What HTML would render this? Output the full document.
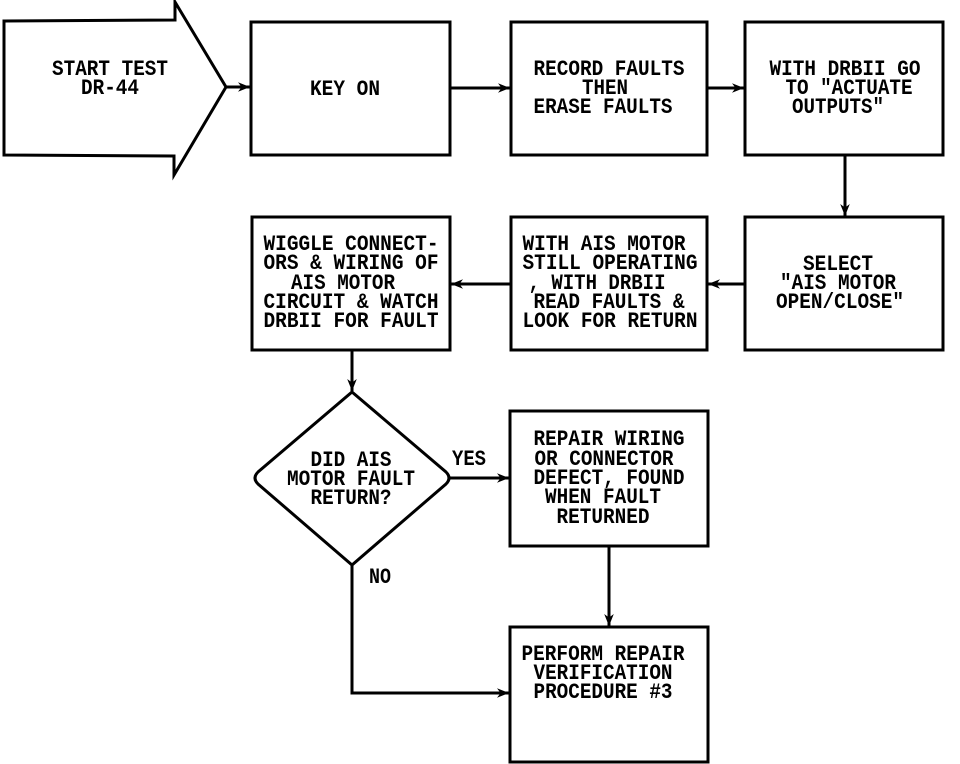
<!DOCTYPE html>
<html><head><meta charset="utf-8"><style>html,body{margin:0;padding:0;background:#fff}svg{display:block}text{font-family:"Liberation Mono",monospace;font-weight:bold;font-size:22px;fill:#000}</style></head><body>
<svg width="960" height="764" viewBox="0 0 960 764" xmlns="http://www.w3.org/2000/svg">
<defs><marker id="a" viewBox="0 0 10 10" refX="10" refY="5" markerWidth="12" markerHeight="12" markerUnits="userSpaceOnUse" orient="auto"><path d="M0,1 L10,5 L0,9 L3,5 z" fill="#000"/></marker></defs>
<g fill="none" stroke="#000" stroke-width="3">
<path d="M4,21 L175,20 L175,2 L226,87 L174,175 L174,156 L4,155 Z"/>
<rect x="251" y="22" width="199" height="133"/>
<rect x="511" y="22" width="196" height="133"/>
<rect x="745" y="22" width="198" height="133"/>
<rect x="252" y="217" width="198" height="133"/>
<rect x="511" y="217" width="196" height="133"/>
<rect x="745" y="217" width="198" height="133"/>
<path d="M352,392 L446,472 Q452,478 446,484 L352,565 L258,484 Q252,478 258,472 Z"/>
<rect x="510" y="411" width="198" height="135"/>
<rect x="510" y="627" width="198" height="135"/>
<g marker-end="url(#a)">
<line x1="226" y1="87" x2="250" y2="87"/>
<line x1="450" y1="88" x2="510" y2="88"/>
<line x1="707" y1="88" x2="744" y2="88"/>
<line x1="845" y1="155" x2="845" y2="216"/>
<line x1="745" y1="284" x2="708" y2="284"/>
<line x1="511" y1="284" x2="451" y2="284"/>
<line x1="352" y1="350" x2="352" y2="391"/>
<line x1="450" y1="478" x2="509" y2="478"/>
<line x1="609" y1="546" x2="609" y2="626"/>
<polyline points="352,565 352,693 509,693"/>
</g></g>
<g text-anchor="middle" lengthAdjust="spacingAndGlyphs">
<text x="110" y="75" textLength="116" lengthAdjust="spacingAndGlyphs">START TEST</text>
<text x="110" y="94" textLength="58" lengthAdjust="spacingAndGlyphs">DR-44</text>
<text x="345" y="95" textLength="70" lengthAdjust="spacingAndGlyphs">KEY ON</text>
<text x="609" y="75" textLength="151" lengthAdjust="spacingAndGlyphs">RECORD FAULTS</text>
<text x="605" y="94" textLength="46" lengthAdjust="spacingAndGlyphs">THEN</text>
<text x="603" y="113" textLength="139" lengthAdjust="spacingAndGlyphs">ERASE FAULTS</text>
<text x="845" y="75" textLength="151" lengthAdjust="spacingAndGlyphs">WITH DRBII GO</text>
<text x="849" y="94" textLength="127" lengthAdjust="spacingAndGlyphs">TO "ACTUATE</text>
<text x="838" y="113" textLength="92" lengthAdjust="spacingAndGlyphs">OUTPUTS"</text>
<text x="351" y="250" textLength="175" lengthAdjust="spacingAndGlyphs">WIGGLE CONNECT-</text>
<text x="351" y="269" textLength="175" lengthAdjust="spacingAndGlyphs">ORS &amp; WIRING OF</text>
<text x="343" y="289" textLength="104" lengthAdjust="spacingAndGlyphs">AIS MOTOR</text>
<text x="351" y="308" textLength="175" lengthAdjust="spacingAndGlyphs">CIRCUIT &amp; WATCH</text>
<text x="351" y="327" textLength="175" lengthAdjust="spacingAndGlyphs">DRBII FOR FAULT</text>
<text x="604" y="250" textLength="163" lengthAdjust="spacingAndGlyphs">WITH AIS MOTOR</text>
<text x="610" y="269" textLength="175" lengthAdjust="spacingAndGlyphs">STILL OPERATING</text>
<text x="597" y="289" textLength="137" lengthAdjust="spacingAndGlyphs">, WITH DRBII</text>
<text x="609" y="308" textLength="151" lengthAdjust="spacingAndGlyphs">READ FAULTS &amp;</text>
<text x="610" y="327" textLength="175" lengthAdjust="spacingAndGlyphs">LOOK FOR RETURN</text>
<text x="838" y="270" textLength="70" lengthAdjust="spacingAndGlyphs">SELECT</text>
<text x="838" y="289" textLength="116" lengthAdjust="spacingAndGlyphs">"AIS MOTOR</text>
<text x="840" y="308" textLength="128" lengthAdjust="spacingAndGlyphs">OPEN/CLOSE"</text>
<text x="351" y="466" textLength="81" lengthAdjust="spacingAndGlyphs">DID AIS</text>
<text x="351" y="485" textLength="128" lengthAdjust="spacingAndGlyphs">MOTOR FAULT</text>
<text x="351" y="504" textLength="81" lengthAdjust="spacingAndGlyphs">RETURN?</text>
<text x="469" y="465" textLength="34" lengthAdjust="spacingAndGlyphs">YES</text>
<text x="380" y="583" textLength="22" lengthAdjust="spacingAndGlyphs">NO</text>
<text x="609" y="445" textLength="151" lengthAdjust="spacingAndGlyphs">REPAIR WIRING</text>
<text x="604" y="465" textLength="139" lengthAdjust="spacingAndGlyphs">OR CONNECTOR</text>
<text x="609" y="484" textLength="151" lengthAdjust="spacingAndGlyphs">DEFECT, FOUND</text>
<text x="603" y="503" textLength="116" lengthAdjust="spacingAndGlyphs">WHEN FAULT</text>
<text x="603" y="523" textLength="93" lengthAdjust="spacingAndGlyphs">RETURNED</text>
<text x="603" y="660" textLength="163" lengthAdjust="spacingAndGlyphs">PERFORM REPAIR</text>
<text x="603" y="679" textLength="139" lengthAdjust="spacingAndGlyphs">VERIFICATION</text>
<text x="603" y="698" textLength="139" lengthAdjust="spacingAndGlyphs">PROCEDURE #3</text>
</g>
</svg>
</body></html>
